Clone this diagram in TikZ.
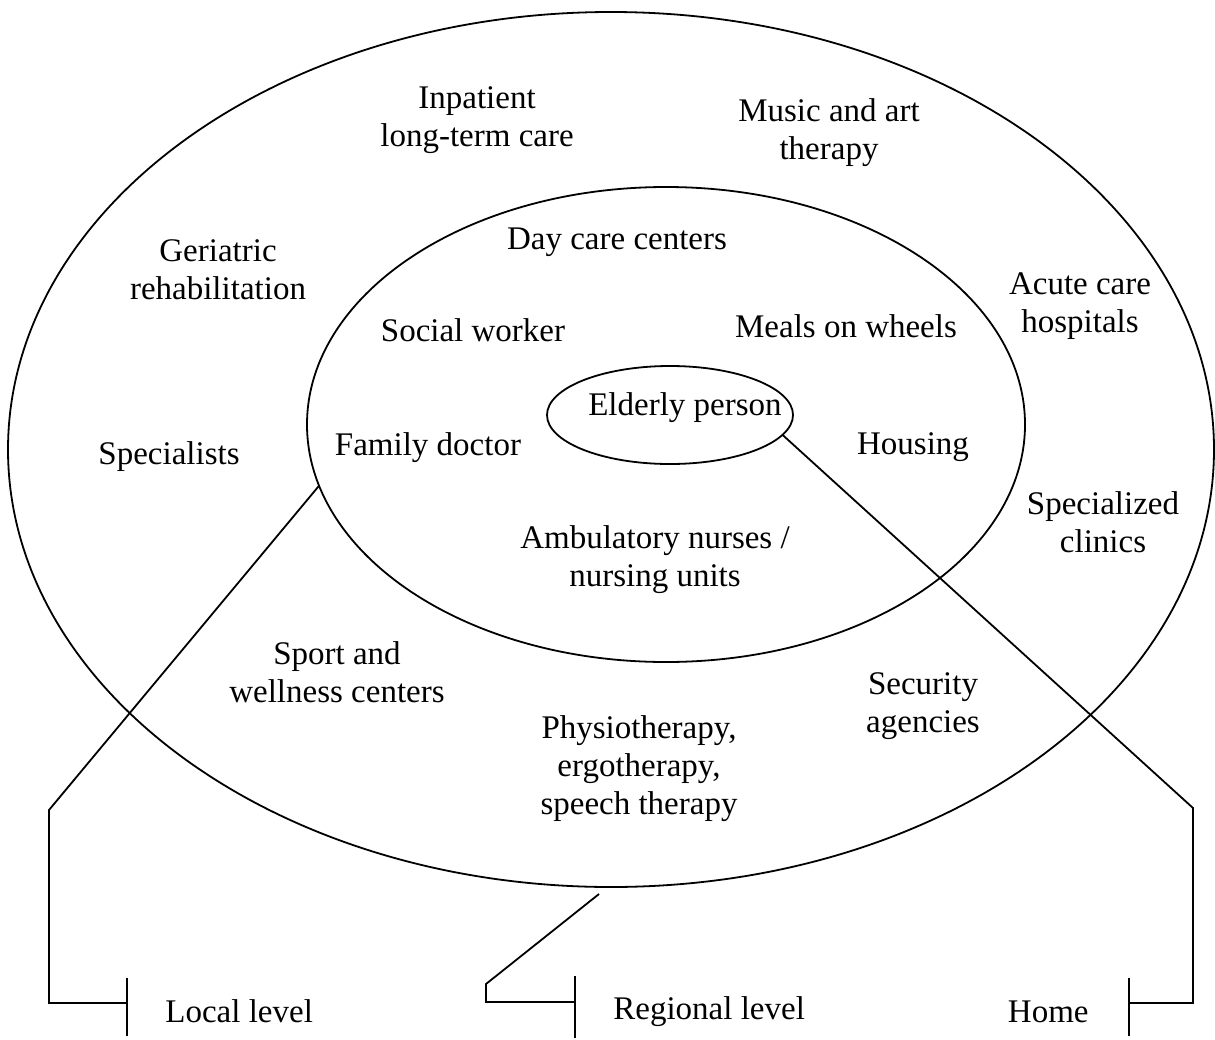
\documentclass[tikz,border=0pt]{standalone}
\usepackage{fontspec}
\setmainfont{Liberation Serif}
\usetikzlibrary{shapes.geometric}
\begin{document}
\begin{tikzpicture}[x=0.5pt,y=-0.5pt,
  ring/.style={draw,ellipse,inner sep=0pt,outer sep=0pt,line width=0.9pt},
  lbl/.style={align=center,font=\fontsize{16.5}{19}\selectfont,inner sep=0pt,yshift=-2pt},
  conn/.style={line width=0.9pt},
  tick/.style={line width=1.1pt}]
\useasboundingbox (0,0) rectangle (1215,1039);
\node[ring,minimum width=603pt,minimum height=437.5pt] (outer) at (611,449.5) {};
\node[ring,minimum width=359pt,minimum height=237.5pt] (inner) at (666,424.5) {};
\node[ring,minimum width=123pt,minimum height=49pt] (elder) at (670,415) {};

\node[lbl] (inpat) at (477,116) {Inpatient\\long-term care};
\node[lbl] (music) at (829,129) {Music and art\\therapy};
\node[lbl] (geri) at (218,266) {Geriatric\\rehabilitation};
\node[lbl] (day) at (617,238) {Day care centers};
\node[lbl] (acute) at (1080,302) {Acute care\\hospitals};
\node[lbl] (social) at (473,326) {Social worker};
\node[lbl] (meals) at (846,322) {Meals on wheels};
\node[lbl] (eltext) at (685,404) {Elderly person};
\node[lbl] (spec) at (169,453) {Specialists};
\node[lbl] (family) at (428,444) {Family doctor};
\node[lbl] (housing) at (913,443) {Housing};
\node[lbl] (clinics) at (1103,518) {Specialized\\clinics};
\node[lbl] (nurses) at (655,556) {Ambulatory nurses /\\nursing units};
\node[lbl] (sport) at (337,668) {Sport and\\wellness centers};
\node[lbl] (security) at (923,702) {Security\\agencies};
\node[lbl] (physio) at (639,765) {Physiotherapy,\\ergotherapy,\\speech therapy};

\node[lbl,anchor=west,yshift=1pt] (local) at (165,1009) {Local level};
\node[lbl,anchor=west] (regional) at (613,1008) {Regional level};
\node[lbl,anchor=east,yshift=1pt] (home) at (1089,1010) {Home};

% ticks
\coordinate (tl1) at (127,978); \coordinate (tl2) at (127,1036);
\coordinate (tr1) at (575,976); \coordinate (tr2) at (575,1038);
\coordinate (th1) at (1129,978); \coordinate (th2) at (1129,1036);
\draw[tick] (tl1) -- (tl2);
\draw[tick] (tr1) -- (tr2);
\draw[tick] (th1) -- (th2);

% connectors
\coordinate (regtop) at (599,894);
\draw[conn] (inner.190.4) -- (49,810) -- (49,1003) -- (127,1003);
\draw[conn] (regtop) -- (486,984) -- (486,1002) -- (575,1002);
\draw[conn] (elder.350.5) -- (1193,808) -- (1193,1003) -- (1129,1003);
\end{tikzpicture}
\end{document}
